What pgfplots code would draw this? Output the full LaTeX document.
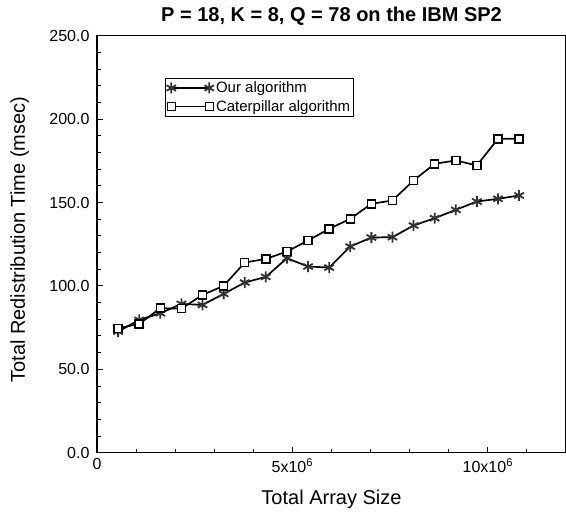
\documentclass[border=0pt]{standalone}
\usepackage{fontspec}
\setmainfont{Liberation Sans}
\usepackage{pgfplots}
\pgfplotsset{compat=1.18}
\begin{document}
\begin{tikzpicture}
\begin{axis}[
  at={(0pt,0pt)}, anchor=south west,
  width=469pt, height=417pt, scale only axis,
  xmin=0, xmax=12, ymin=0, ymax=250,
  axis line style={line width=1.2pt},
  tick style={line width=0.9pt, black},
  tick align=inside,
  xtick pos=bottom, ytick pos=left,
  xtick={0,5,10},
  xticklabels={0, 5x10\textsuperscript{6}, 10x10\textsuperscript{6}},
  minor xtick={1,2,3,4,6,7,8,9,11},
  ytick={0,50,100,150,200,250},
  minor ytick={10,20,30,40,60,70,80,90,110,120,130,140,160,170,180,190,210,220,230,240},
  major tick length=6pt, minor tick length=4pt,
  /pgf/number format/assume math mode=true,
  yticklabel={\pgfmathprintnumber[fixed,fixed zerofill,precision=1]{\tick}},
  tick label style={font=\fontsize{16}{19}\selectfont},
  yticklabel style={xshift=-4pt},
  xticklabel style={yshift=-2pt},
  every axis title shift=0pt,
  title={P = 18, K = 8, Q = 78 on the IBM SP2},
  title style={font=\fontsize{20}{24}\selectfont\bfseries, at={(axis description cs:0.5,1)}, anchor=base, yshift=14pt},
  xlabel={Total Array Size},
  xlabel style={font=\fontsize{20}{24}\selectfont, at={(axis description cs:0.5,0)}, anchor=base, yshift=-52pt},
  ylabel={Total Redistribution Time (msec)},
  ylabel style={font=\fontsize{20}{24}\selectfont, at={(axis description cs:0,0.511)}, anchor=base, yshift=72pt},
  legend style={at={(axis description cs:0.144,0.899)}, anchor=north west,
    font=\fontsize{15}{18}\selectfont, draw=black, line width=1pt,
    inner sep=1.5pt, row sep=2pt, cells={anchor=west}},
  legend image code/.code={\draw[#1] plot coordinates {(0pt,0pt) (38pt,0pt)};},
]
\addplot[black, line width=1.7pt, mark=asterisk, mark size=5.5pt, mark options={black!80, line width=1.8pt}]
coordinates {
(0.54,72.6) (1.08,79.6) (1.62,83.6) (2.16,89.2) (2.70,88.6)
(3.24,95.2) (3.78,102.0) (4.32,105.4) (4.86,116.6) (5.40,111.6)
(5.94,111.0) (6.48,123.6) (7.02,129.0) (7.56,129.2) (8.10,136.2)
(8.64,140.6) (9.18,145.6) (9.72,150.6) (10.26,152.2) (10.80,154.2)
};
\addlegendentry{Our algorithm}
\addplot[black, line width=1.7pt, mark=square*, mark size=4pt, mark options={fill=white, draw=black, line width=1.5pt}]
coordinates {
(0.54,74.6) (1.08,77.2) (1.62,86.6) (2.16,86.4) (2.70,94.6)
(3.24,100.0) (3.78,114.0) (4.32,116.2) (4.86,120.6) (5.40,127.2)
(5.94,134.2) (6.48,140.2) (7.02,149.2) (7.56,151.2) (8.10,163.2)
(8.64,173.2) (9.18,175.2) (9.72,172.2) (10.26,188.2) (10.80,188.2)
};
\addlegendentry{Caterpillar algorithm}
\end{axis}
\pgfresetboundingbox
\path[use as bounding box] (-97pt,-60.3pt) rectangle (469pt,452.7pt);
\end{tikzpicture}
\end{document}
